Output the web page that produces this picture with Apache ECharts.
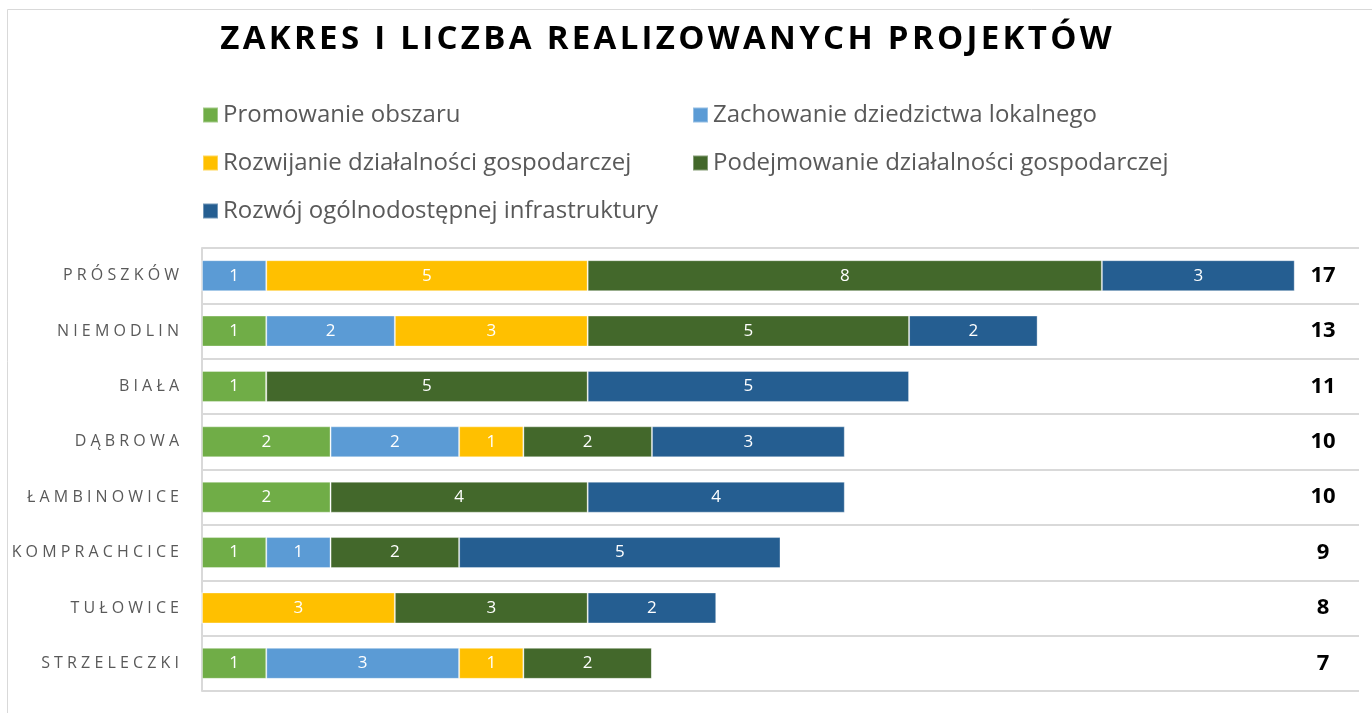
<!DOCTYPE html>
<html>
<head>
<meta charset="utf-8">
<script src="https://cdn.jsdelivr.net/npm/echarts@6/dist/echarts.min.js"></script>
<style>
  html, body { margin: 0; padding: 0; background: #fff; }
  #chart { width: 1372px; height: 713px; }
</style>
</head>
<body>
<div id="chart"></div>
<script>
// dane
let gminy = ["PRÓSZKÓW", "NIEMODLIN", "BIAŁA", "DĄBROWA", "ŁAMBINOWICE", "KOMPRACHCICE", "TUŁOWICE", "STRZELECZKI"];
let promowanie = [0, 1, 1, 2, 2, 1, 0, 1]; // Promowanie obszaru
let zachowanie = [1, 2, 0, 2, 0, 1, 0, 3]; // Zachowanie dziedzictwa lokalnego
let rozwijanie = [5, 3, 0, 1, 0, 0, 3, 1]; // Rozwijanie działalności gospodarczej
let podejmowanie = [8, 5, 5, 2, 4, 2, 3, 2]; // Podejmowanie działalności gospodarczej
let infrastruktura = [3, 2, 5, 3, 4, 5, 2, 0]; // Rozwój ogólnodostępnej infrastruktury

let serie = [
    { name: "Promowanie obszaru", data: promowanie, color: "#70AD47" },
    { name: "Zachowanie dziedzictwa lokalnego", data: zachowanie, color: "#5B9BD5" },
    { name: "Rozwijanie działalności gospodarczej", data: rozwijanie, color: "#FFC000" },
    { name: "Podejmowanie działalności gospodarczej", data: podejmowanie, color: "#43682B" },
    { name: "Rozwój ogólnodostępnej infrastruktury", data: infrastruktura, color: "#255E91" }
];

// suma projektów dla każdej gminy
let sumy = gminy.map(function (g, i) {
    return serie.reduce(function (s, x) { return s + x.data[i]; }, 0);
});

let font = "'Open Sans', 'Noto Sans', sans-serif";

var myChart = echarts.init(document.getElementById("chart"));

var legendText = { fontSize: 24, color: "#595959", fontFamily: font };

var option = {
    backgroundColor: "#fff",
    animation: false,
    textStyle: { fontFamily: font },
    graphic: [{
        type: "rect",
        shape: { x: 7.5, y: 9.5, width: 1400, height: 800 },
        style: { fill: "none", stroke: "#d9d9d9", lineWidth: 1 },
        silent: true
    }],
    title: {
        text: "ZAKRES I LICZBA REALIZOWANYCH PROJEKTÓW".split("").join("\u200A"),
        left: 661,
        textAlign: "center",
        top: 18,
        textStyle: { fontSize: 33, fontWeight: "bold", color: "#000", fontFamily: font }
    },
    legend: [{
        data: [serie[0].name, serie[2].name, serie[4].name],
        orient: "vertical",
        left: 197,
        top: 98,
        itemWidth: 15,
        itemHeight: 15,
        itemGap: 24,
        icon: "rect",
        textStyle: legendText
    }, {
        data: [serie[1].name, serie[3].name],
        orient: "vertical",
        left: 687,
        top: 98,
        itemWidth: 15,
        itemHeight: 15,
        itemGap: 24,
        icon: "rect",
        textStyle: legendText
    }],
    grid: { left: 202, right: 13, top: 248, bottom: 22, containLabel: false },
    xAxis: {
        type: "value",
        min: 0,
        max: 18,
        show: false,
        splitLine: { show: false }
    },
    yAxis: [{
        type: "category",
        data: gminy,
        inverse: true,
        axisLine: { show: true, lineStyle: { color: "#d9d9d9", width: 2 } },
        axisTick: { show: false },
        splitLine: { show: true, lineStyle: { color: "#d9d9d9", width: 2 } },
        axisLabel: {
            color: "#595959",
            fontSize: 16,
            margin: 23,
            fontFamily: font,
            formatter: function (v) { return v.split("").join(" "); }
        }
    }, {
        type: "category",
        data: sumy,
        inverse: true,
        position: "right",
        axisLine: { show: false },
        axisTick: { show: false },
        splitLine: { show: false },
        axisLabel: {
            inside: true,
            margin: 36,
            align: "center",
            padding: [10, 0, 0, 0],
            color: "#000",
            fontSize: 22,
            fontWeight: "bold",
            fontFamily: font
        }
    }],
    series: serie.map(function (s) {
        return {
            name: s.name,
            type: "bar",
            stack: "razem",
            barWidth: 31,
            data: s.data,
            itemStyle: { color: s.color, borderColor: "rgba(255,255,255,0.35)", borderWidth: 1 },
            label: {
                show: true,
                position: "inside",
                color: "#fff",
                fontSize: 17,
                fontFamily: font,
                formatter: function (p) { return p.value ? p.value : ""; }
            }
        };
    })
};

myChart.setOption(option);
</script>
</body>
</html>
